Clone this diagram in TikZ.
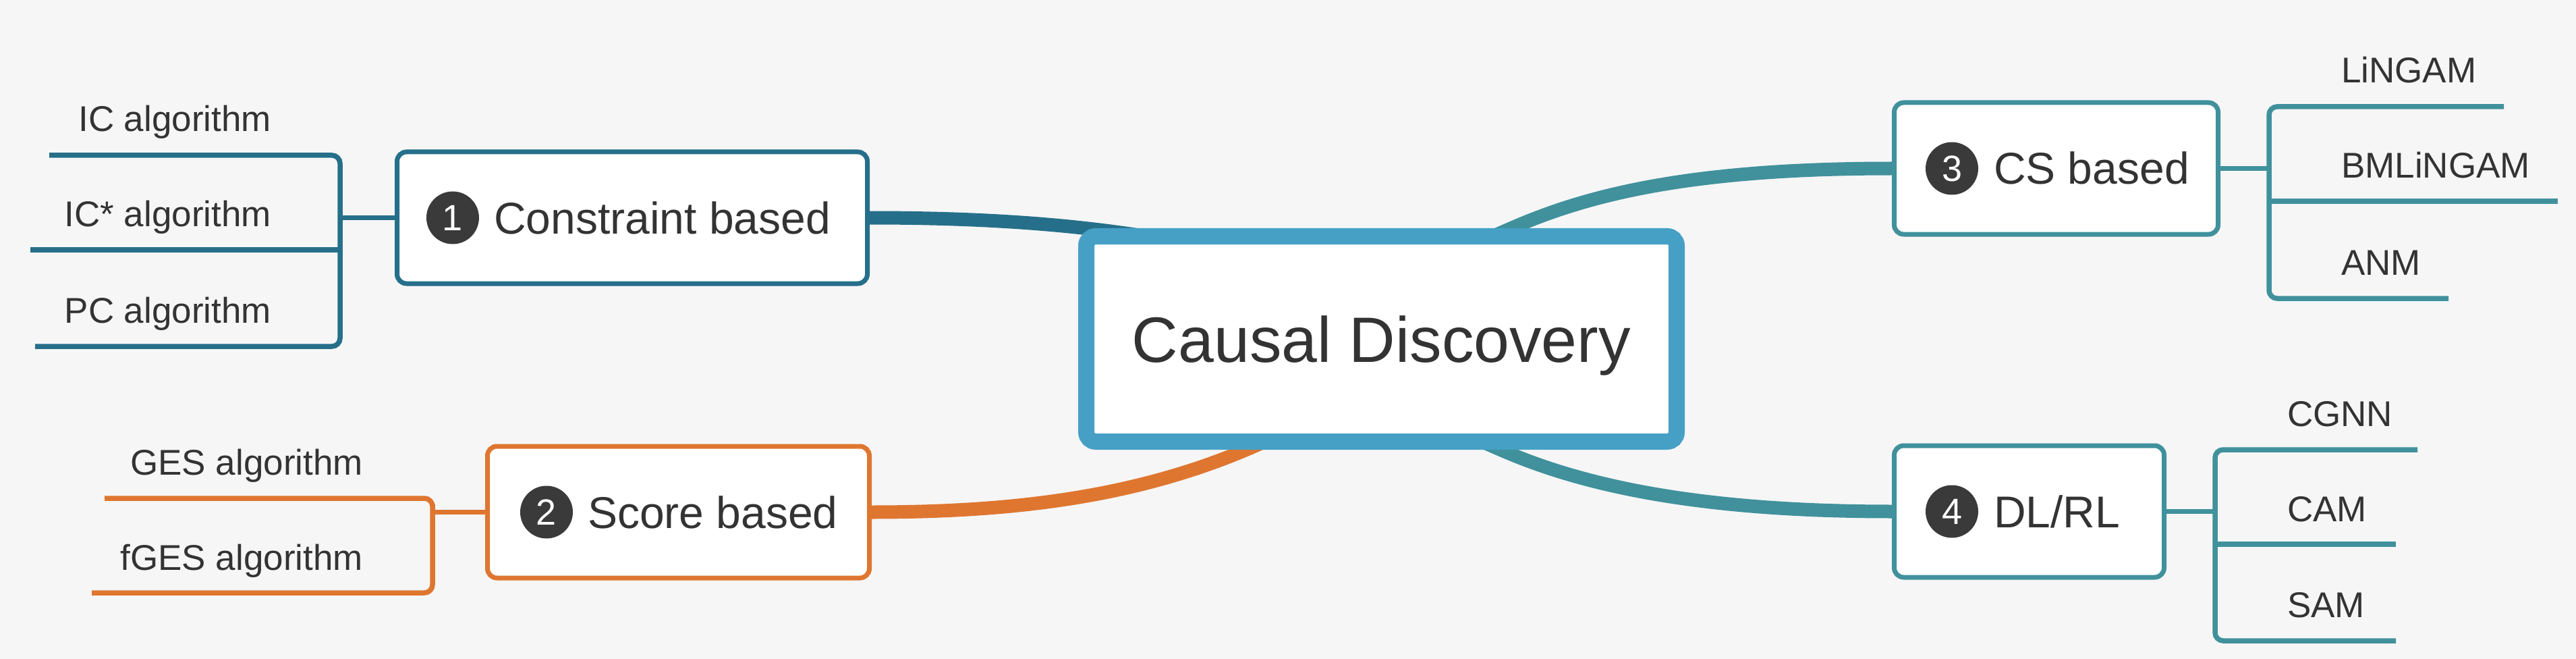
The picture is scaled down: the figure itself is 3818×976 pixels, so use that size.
\documentclass[tikz,border=0pt]{standalone}
\usepackage{fontspec}
\setmainfont{Liberation Sans}
\definecolor{bgc}{HTML}{F6F6F6}
\definecolor{cA}{HTML}{266F8A}
\definecolor{cB}{HTML}{DF7630}
\definecolor{cC}{HTML}{40919C}
\definecolor{cM}{HTML}{46A0C6}
\definecolor{txtgray}{HTML}{333333}
\definecolor{numgray}{HTML}{3A3A3A}
\begin{document}
\begin{tikzpicture}[x=1pt,y=-1pt,
  every node/.style={inner sep=0pt, outer sep=0pt},
  rootbox/.style={draw=cM, line width=24pt, fill=white, rounded corners=14pt,
    minimum width=875pt, minimum height=304pt, text=txtgray,
    font=\fontsize{95}{95}\selectfont, text height=68pt, text depth=0pt},
  branchbox/.style={draw, line width=7pt, fill=white, rounded corners=14pt, minimum height=195pt},
  numdot/.style={circle, fill=numgray, minimum size=78pt, text=white, font=\fontsize{54}{54}\selectfont},
  btext/.style={anchor=base west, text=txtgray, font=\fontsize{66}{66}\selectfont},
  subtext/.style={text=txtgray, font=\fontsize{53}{53}\selectfont},
  bline/.style={line width=7.5pt, rounded corners=12pt},
  curve/.style={line width=20pt},
]
\useasboundingbox (0,0) rectangle (3818,976);
\fill[bgc] (0,0) rectangle (3818,976);

% branch boxes (nodes defined first, drawn over curves via layering order below)
\path
  (937,322.5) coordinate (c1pos)
  (1005.5,758.5) coordinate (c2pos)
  (3047.5,249.5) coordinate (c3pos)
  (3007.5,757.5) coordinate (c4pos);

% inner points hidden by the root box
\coordinate (e1) at (1780,365);
\coordinate (e2) at (1960,610);
\coordinate (e3) at (2130,386);
\coordinate (e4) at (2114,618);

% curves
\draw[curve, cA] (1289,322.5) .. controls (1500,322.5) and (1650,338) .. (e1);
\draw[curve, cB] (1292,758.5) .. controls (1550,758.5) and (1760,725) .. (e2);
\draw[curve, cC] (e3) -- (2240,338) .. controls (2350,290) and (2500,249.5) .. (2804,249.5);
\draw[curve, cC] (e4) -- (2224,666) .. controls (2334,714) and (2500,757.5) .. (2804,757.5);

% boxes
\node[branchbox, draw=cA, minimum width=697pt] (c1) at (c1pos) {};
\node[branchbox, draw=cB, minimum width=566pt] (c2) at (c2pos) {};
\node[branchbox, draw=cC, minimum width=480pt] (c3) at (c3pos) {};
\node[branchbox, draw=cC, minimum width=400pt] (c4) at (c4pos) {};
\node[rootbox] (root) at (2047.5,502) {Causal Discovery};

% numbers and branch titles
\node[numdot] (n1) at (671,322.5) {1};
\node[btext] (t1) at (732,346) {Constraint based};
\node[numdot] (n2) at (810,758.5) {2};
\node[btext] (t2) at (871,782) {Score based};
\node[numdot] (n3) at (2893,249.5) {3};
\node[btext] (t3) at (2955,273) {CS based};
\node[numdot] (n4) at (2893,757.5) {4};
\node[btext] (t4) at (2955,781) {DL/RL};

% ---------- Constraint based subtree ----------
\coordinate (j1) at (504,322.5);
\coordinate (u11) at (73,230);
\coordinate (u12) at (45,370);
\coordinate (u13) at (52,513);
\draw[bline, cA] (u11) -| (j1) |- (u13);
\draw[bline, cA] (u12) -- (u12 -| j1);
\draw[bline, cA] (c1.west) -- (j1);
\node[subtext, anchor=base east] (s11) at (402,195) {IC algorithm};
\node[subtext, anchor=base east] (s12) at (402,335) {IC* algorithm};
\node[subtext, anchor=base east] (s13) at (402,478) {PC algorithm};

% ---------- Score based subtree ----------
\coordinate (j2) at (641,758.5);
\coordinate (u21) at (155,738);
\coordinate (u22) at (136,878);
\draw[bline, cB] (u21) -| (j2) |- (u22);
\draw[bline, cB] (c2.west) -- (j2);
\node[subtext, anchor=base east] (s21) at (538,703) {GES algorithm};
\node[subtext, anchor=base east] (s22) at (538,844) {fGES algorithm};

% ---------- CS based subtree ----------
\coordinate (j3) at (3363,249.5);
\coordinate (u31) at (3711,158);
\coordinate (u32) at (3791,298);
\coordinate (u33) at (3629,442);
\draw[bline, cC] (u31) -| (j3) |- (u33);
\draw[bline, cC] (u32) -- (u32 -| j3);
\draw[bline, cC] (c3.east) -- (j3);
\node[subtext, anchor=base west] (s31) at (3470,123) {LiNGAM};
\node[subtext, anchor=base west] (s32) at (3470,264) {BMLiNGAM};
\node[subtext, anchor=base west] (s33) at (3470,407) {ANM};

% ---------- DL/RL subtree ----------
\coordinate (j4) at (3283,757.5);
\coordinate (u41) at (3583,666);
\coordinate (u42) at (3551,806);
\coordinate (u43) at (3551,949);
\draw[bline, cC] (u41) -| (j4) |- (u43);
\draw[bline, cC] (u42) -- (u42 -| j4);
\draw[bline, cC] (c4.east) -- (j4);
\node[subtext, anchor=base west] (s41) at (3390,631) {CGNN};
\node[subtext, anchor=base west] (s42) at (3390,772) {CAM};
\node[subtext, anchor=base west] (s43) at (3390,914) {SAM};
\end{tikzpicture}
\end{document}
